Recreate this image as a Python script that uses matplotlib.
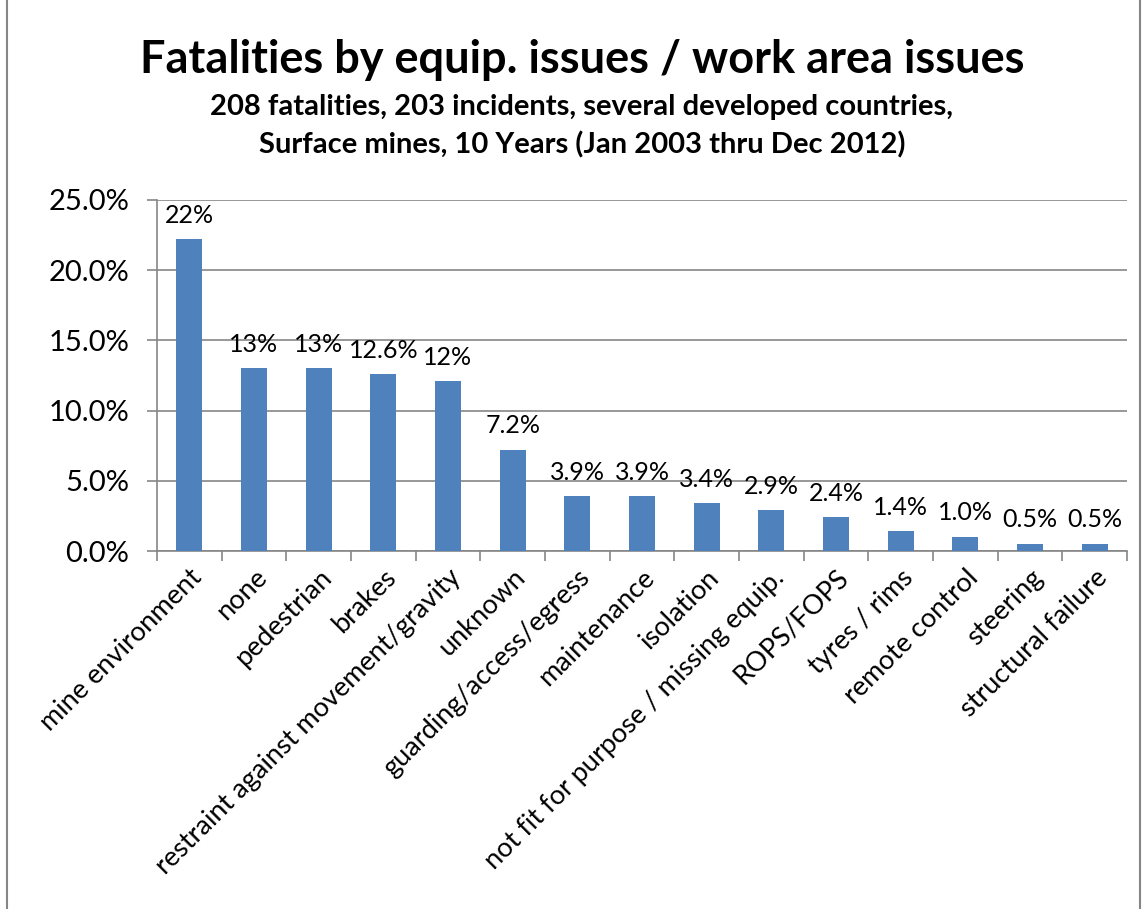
import matplotlib
matplotlib.use("Agg")
import matplotlib.pyplot as plt
from matplotlib.patches import Rectangle

categories = ["mine environment", "none", "pedestrian", "brakes",
              "restraint against movement/gravity", "unknown",
              "guarding/access/egress", "maintenance", "isolation",
              "not fit for purpose / missing equip.", "ROPS/FOPS",
              "tyres / rims", "remote control", "steering", "structural failure"]
values = [22.2, 13.0, 13.0, 12.6, 12.1, 7.2, 3.9, 3.9, 3.4, 2.9, 2.4, 1.4, 1.0, 0.5, 0.5]
value_labels = ["22%", "13%", "13%", "12.6%", "12%", "7.2%", "3.9%", "3.9%", "3.4%",
                "2.9%", "2.4%", "1.4%", "1.0%", "0.5%", "0.5%"]
yticks = [0, 5, 10, 15, 20, 25]
ytick_labels = ["0.0%", "5.0%", "10.0%", "15.0%", "20.0%", "25.0%"]

plt.rcParams['font.family'] = ['Lato', 'DejaVu Sans']

W, H = 1143, 909
fig = plt.figure(figsize=(W/100, H/100), dpi=100)
ax = fig.add_axes([157/W, 1-551/H, (1127-157)/W, (551-200)/H])

x = list(range(len(categories)))
ax.bar(x, values, width=0.4, color="#4F81BD", zorder=3)
for xi, v, lab in zip(x, values, value_labels):
    ax.annotate(lab, (xi, v), xytext=(0, 9), textcoords="offset points",
                ha="center", va="bottom", fontsize=18, color="black")

ax.set_xlim(-0.5, len(categories)-0.5)
ax.set_ylim(0, 25)
ax.set_yticks(yticks)
ax.set_yticklabels(ytick_labels, fontsize=21)
ax.yaxis.grid(True, color="#868686", linewidth=1.2, zorder=0)
ax.set_xticks([i - 0.5 for i in range(len(categories)+1)], minor=False)
ax.set_xticklabels([])
ax.set_xticks(x, minor=True)
ax.set_xticklabels(categories, minor=True, rotation=45, ha="right",
                   rotation_mode="anchor", fontsize=19.5)
ax.tick_params(axis="x", which="minor", length=0, pad=10)
ax.tick_params(axis="x", which="major", length=7, color="#868686", width=1.2)
ax.tick_params(axis="y", length=7, color="#868686", width=1.2, pad=13)
for s in ["top", "right"]:
    ax.spines[s].set_visible(False)
for s in ["left", "bottom"]:
    ax.spines[s].set_color("#868686")
    ax.spines[s].set_linewidth(1.2)

fig.text(582/W, 1-60/H, "Fatalities by equip. issues / work area issues",
         ha="center", va="center", fontsize=32.5, fontweight="bold")
fig.text(582/W, 1-107/H, "208 fatalities, 203 incidents, several developed countries,",
         ha="center", va="center", fontsize=21, fontweight="bold")
fig.text(582/W, 1-145/H, "Surface mines, 10 Years (Jan 2003 thru Dec 2012)",
         ha="center", va="center", fontsize=21, fontweight="bold")

fig.patches.append(Rectangle((7/W, -0.05), (1140-7)/W, 1.1, transform=fig.transFigure,
                             fill=False, edgecolor="#868686", linewidth=1.5))

fig.savefig("out.png", dpi=100, facecolor="white")
